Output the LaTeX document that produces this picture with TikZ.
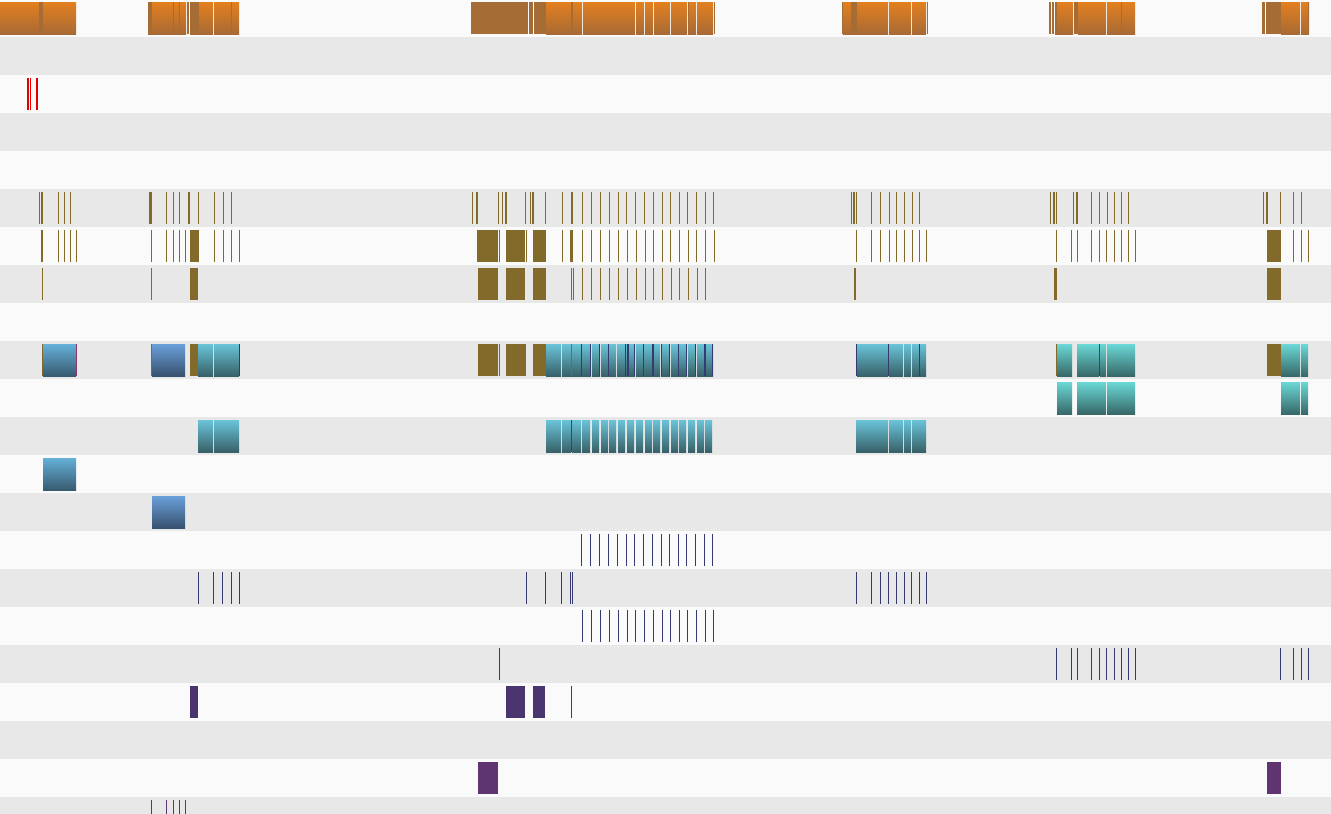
\documentclass[tikz,border=0pt]{standalone}
\definecolor{bgL}{HTML}{FAFAFA}
\definecolor{bgD}{HTML}{E8E8E8}
\definecolor{orT}{HTML}{E3801F}
\definecolor{orB}{HTML}{A86A35}
\definecolor{orD}{HTML}{A66C35}
\definecolor{olv}{HTML}{826A2A}
\definecolor{cyT}{HTML}{6AC4D8}
\definecolor{cyB}{HTML}{376068}
\definecolor{tlT}{HTML}{6AD8D6}
\definecolor{tlB}{HTML}{376868}
\definecolor{blT}{HTML}{6AA0DA}
\definecolor{blB}{HTML}{37506E}
\definecolor{cbT}{HTML}{65B0D8}
\definecolor{cbB}{HTML}{375A70}
\definecolor{nvy}{HTML}{353A70}
\definecolor{ppA}{HTML}{4A356E}
\definecolor{ppB}{HTML}{5E3570}
\definecolor{mag}{HTML}{8A3A6A}
\definecolor{rd}{HTML}{E00000}
\tikzset{
  orbar/.style={top color=orT,bottom color=orB},
  cybar/.style={top color=cyT,bottom color=cyB},
  tlbar/.style={top color=tlT,bottom color=tlB},
  blbar/.style={top color=blT,bottom color=blB},
  cbbar/.style={top color=cbT,bottom color=cbB},
}
% thin 1px lines: colour, top y, list of x
\newcommand\vls[3]{\foreach \x in {#3} \fill[#1] (\x,#2) rectangle ++(1,32);}
% blocks: style, top y, list of a/b
\newcommand\blks[3]{\foreach \a/\b in {#3} \path[#1] (\a,#2) rectangle (\b,#2+32);}
\begin{document}
\begin{tikzpicture}[x=1pt,y=-1pt]
\useasboundingbox (0,0) rectangle (1331,814);
\clip (0,0) rectangle (1331,814);
% row backgrounds
\foreach \r in {0,...,21}{
  \pgfmathsetmacro\t{38*\r-1}
  \ifodd\r \fill[bgD] (0,\t) rectangle (1331,\t+38);
  \else \fill[bgL] (0,\t) rectangle (1331,\t+38); \fi
}
% ---------- row 0: orange
\blks{orbar}{2}{0/76,148/186,190/213,214/239,546/582,583/635,636/644,645/653,654/670,671/687,688/696,697/713,843/888,889/911,912/926,1055/1073,1078/1106,1107/1135,1281/1300,1301/1309}
\blks{fill=orD}{2}{39/43,148/152,173/174,179/180,187/189,190/199,231/232,471/528,529/533,534/546,571/573,688/689,714/715,842/843,851/857,927/928,1049/1051,1052/1054,1055/1057,1074/1078,1121/1122,1262/1265,1266/1281,1308/1309}
% ---------- row 2: red
\blks{fill=rd}{78}{27/29,30/31,36/38}
% ---------- row 5: olive
\vls{olv}{192}{39,58,64,70,166,173,179,198,214,223,231,472,498,502,525,530,545,562,582,591,600,609,618,626,635,644,653,662,670,679,687,696,705,713,851,856,871,880,889,896,904,912,919,1050,1056,1073,1091,1099,1107,1114,1121,1128,1263,1280,1293,1301}
\blks{fill=olv}{192}{41/43,149/152,188/190,476/478,505/507,532/534,571/573,853/855,1053/1055,1076/1078,1266/1268}
% ---------- row 6
\vls{olv}{230}{58,64,70,76,151,166,173,179,185,214,223,231,239,499,526,562,582,591,600,609,618,627,636,645,653,662,670,679,688,696,705,714,856,871,880,889,896,904,912,919,926,1056,1071,1077,1091,1099,1106,1114,1121,1128,1135,1293,1301,1308}
\blks{fill=olv}{230}{41/43,190/199,477/498,506/525,533/546,570/573,1267/1281}
% ---------- row 7
\vls{olv}{268}{42,151,571,573,582,591,600,609,618,627,636,645,653,662,671,679,688,697,705}
\blks{fill=olv}{268}{190/198,478/498,506/525,533/546,854/856,1054/1057,1267/1281}
% ---------- row 9
\blks{fill=olv}{344}{42/43,151/152,190/198,478/498,499/500,506/526,533/546,1056/1057,1267/1281}
\blks{cbbar}{344}{43/76}
\blks{fill=mag}{344}{76/77}
\blks{blbar}{344}{152/185}
\blks{cybar}{344}{198/213,214/239,546/561,562/591,592/600,601/616,617/635,636/660,661/670,671/687,688/696,697/713,857/888,889/903,904/911,912/926}
\blks{fill=olv}{344}{571/572}
\blks{fill=nvy}{344}{239/240,581/582,590/591,599/600,608/609,625/626,627/629,634/635,643/644,652/654,661/662,669/670,678/679,686/687,695/696,704/706,712/713,856/857,888/889,919/920,1099/1100}
\blks{tlbar}{344}{1057/1072,1077/1099,1100/1106,1107/1135,1281/1300,1301/1308}
% ---------- row 10
\blks{tlbar}{382}{1057/1072,1077/1106,1107/1135,1281/1300,1301/1308}
% ---------- row 11
\blks{cybar}{420}{198/213,214/239,546/561,562/571,572/581,582/590,592/599,601/608,609/616,618/625,627/634,636/643,645/652,653/660,662/669,671/678,679/686,688/695,697/704,705/712,856/888,889/903,904/911,912/926}
\blks{fill=nvy!70!cyB}{420}{571/572}
% ---------- row 12, 13
\blks{cbbar}{458}{43/76}
\blks{blbar}{496}{152/185}
% ---------- row 14-17: navy ticks
\vls{nvy}{534}{581,590,599,608,617,626,634,643,652,661,669,678,686,695,704,712}
\vls{nvy}{572}{198,213,222,231,239,526,545,561,570,572,856,871,880,888,896,904,911,919,926}
\vls{nvy}{610}{582,591,600,609,618,627,635,644,653,662,670,679,687,696,705,713}
\vls{nvy}{648}{499,1056,1071,1077,1091,1099,1106,1114,1121,1128,1135,1280,1293,1301,1308}
% ---------- row 18: purple
\blks{fill=ppA}{686}{190/198,506/525,533/545}
\vls{ppA}{686}{571}
% ---------- row 20
\blks{fill=ppB}{762}{478/498,1267/1281}
% ---------- row 21
\vls{ppB}{800}{151,166,173,179,185}
\end{tikzpicture}
\end{document}
